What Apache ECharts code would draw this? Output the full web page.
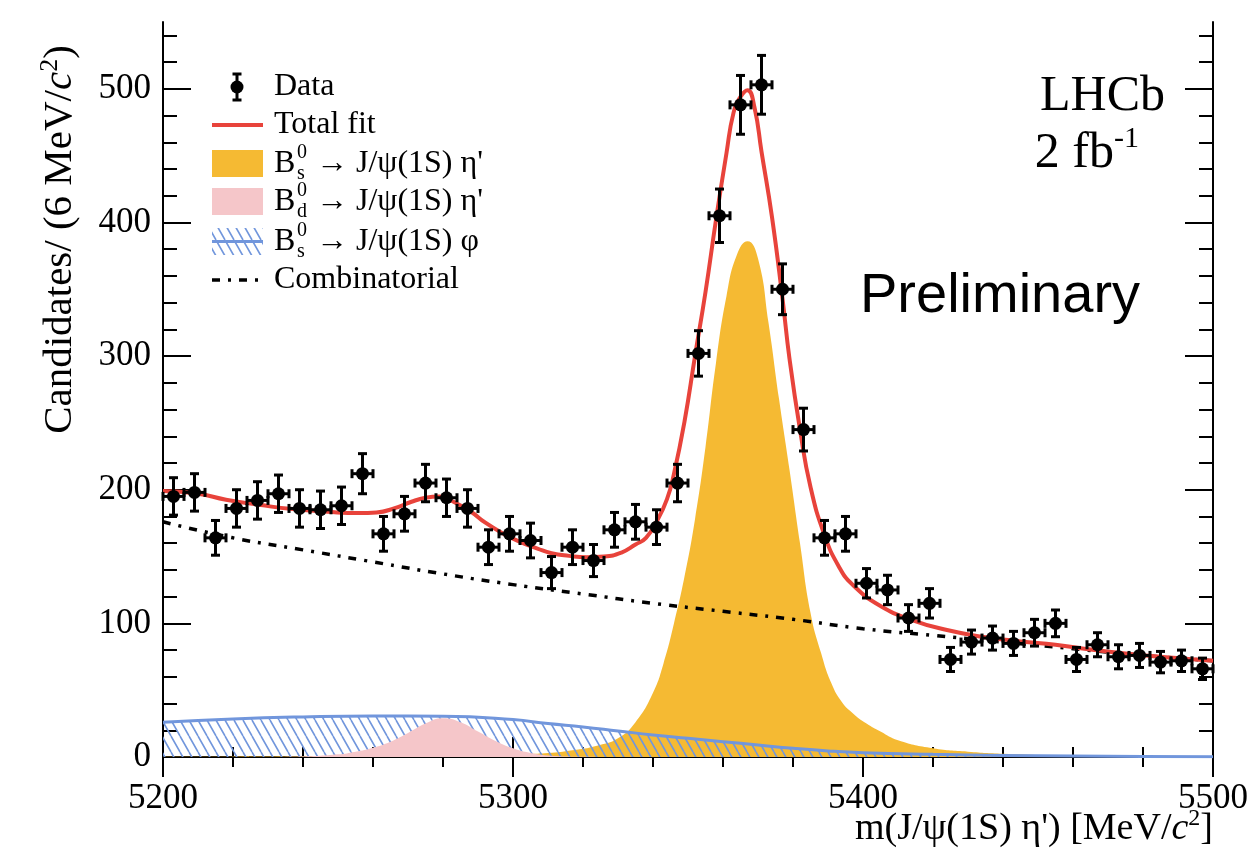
<!DOCTYPE html>
<html>
<head>
<meta charset="utf-8">
<script src="https://cdn.jsdelivr.net/npm/echarts@6/dist/echarts.min.js"></script>
<style>
  html, body { margin: 0; padding: 0; background: #fff; }
  #chart { width: 1255px; height: 862px; }
</style>
</head>
<body>
<div id="chart"></div>
<script>
// m(J/psi eta') spectrum, 6 MeV bins
const binCentres = [5203, 5209, 5215, 5221, 5227, 5233, 5239, 5245, 5251, 5257,
  5263, 5269, 5275, 5281, 5287, 5293, 5299, 5305, 5311, 5317,
  5323, 5329, 5335, 5341, 5347, 5353, 5359, 5365, 5371, 5377,
  5383, 5389, 5395, 5401, 5407, 5413, 5419, 5425, 5431, 5437,
  5443, 5449, 5455, 5461, 5467, 5473, 5479, 5485, 5491, 5497];
const counts = [195, 198, 164, 186, 192, 197, 186, 185, 188, 212,
  167, 182, 205, 194, 186, 157, 167, 162, 138, 157,
  147, 170, 176, 172, 205, 302, 405, 488, 503, 350,
  245, 164, 167, 130, 125, 104, 115, 73, 86, 89,
  85, 93, 100, 73, 84, 75, 76, 71, 72, 66];
const countErr = [14, 14, 13, 14, 14, 14, 14, 14, 14, 15,
  13, 13, 14, 14, 14, 13, 13, 13, 12, 13,
  12, 13, 13, 13, 14, 17, 20, 22, 22, 19,
  16, 13, 13, 11, 11, 10, 11, 9, 9, 9,
  9, 10, 10, 9, 9, 9, 9, 8, 8, 8];

// total fit
const fitMass = [5200, 5210, 5218, 5228, 5237, 5247, 5256, 5261, 5266, 5271, 5275, 5279, 5283, 5288,
  5292, 5297, 5302, 5307, 5311, 5316, 5321, 5326, 5331, 5335, 5338, 5341, 5344, 5346, 5349,
  5352, 5355, 5358, 5361, 5363, 5365, 5367, 5369, 5371, 5374, 5377, 5379, 5382, 5385, 5389,
  5393, 5397, 5405, 5414, 5424, 5434, 5445, 5455, 5465, 5475, 5485, 5493, 5500];
const fitTotal = [199, 197, 192.5, 188.5, 185.5, 183.5, 182.5, 183, 186, 191, 194, 195, 191, 183.5,
  175.5, 167.5, 161, 156, 152.5, 150.5, 149.5, 150, 153, 159, 164, 176, 193, 212, 251,
  300, 348, 402, 452, 482, 494, 499, 486, 453, 404, 343, 298, 245, 202, 166,
  143, 129, 113, 102.5, 95, 90, 86.5, 84, 80.5, 77.5, 75, 73.4, 72];

// B_s0 -> J/psi eta'
const bsMass = [5200, 5250, 5280, 5300, 5310, 5317, 5324, 5330, 5335, 5340, 5343, 5346, 5349, 5352,
  5355, 5358, 5361, 5364, 5367, 5370, 5373, 5376, 5379, 5382, 5385, 5388, 5391, 5394, 5397,
  5401, 5405, 5410, 5420, 5430, 5440, 5460, 5480, 5500];
const bsSignal = [0.2, 0.6, 1.2, 2, 3, 5, 8.5, 14, 26, 48, 70, 100, 135, 178,
  232, 295, 345, 376, 386, 373, 325, 268, 215, 160, 108, 78, 55, 41, 33,
  25, 19, 12.5, 6.5, 4, 2.5, 1, 0.5, 0.3];

// B_d0 -> J/psi eta'
const bdMass = [5230, 5240, 5250, 5255, 5260, 5265, 5270, 5275, 5280, 5285, 5290, 5295, 5300, 5305, 5310, 5320, 5330];
const bdSignal = [0, 0.4, 2, 4, 7, 11.5, 18, 25, 29, 26, 19, 12, 6.5, 3, 1.2, 0.2, 0];

// B_s0 -> J/psi phi
const phiMass = [5200, 5220, 5240, 5260, 5280, 5300, 5310, 5320, 5330, 5340, 5350, 5360, 5370,
  5380, 5390, 5400, 5420, 5440, 5460, 5480, 5500];
const phiBkg = [26, 28.5, 30, 30.7, 30.5, 28, 25, 22.5, 19.5, 16.5, 14, 11.5, 9,
  6.5, 4.5, 3.2, 2, 1.2, 0.7, 0.4, 0.2];

// combinatorial
const combMass = [5200, 5220, 5240, 5260, 5280, 5300, 5320, 5340, 5360, 5380, 5400, 5420, 5440, 5460, 5480, 5500];
const combBkg = [176, 164, 155, 146, 137, 129, 122, 115, 109, 103, 96, 91, 86, 81, 76, 72];

const yMajor = [0, 100, 200, 300, 400, 500];
const yMinor = [20, 40, 60, 80, 120, 140, 160, 180, 220, 240, 260, 280, 320, 340, 360, 380, 420, 440, 460, 480, 520, 540];

const SERIF = '"Liberation Serif", "DejaVu Serif", serif';
const SANS = '"Liberation Sans", Arial, sans-serif';
const RED = '#e8433b', YELLOW = '#f5ba33', PINK = '#f5c6c9', BLUE = '#7196dc';
const COMB_DASH = [8, 8, 3, 8];

const pairs = (xs, ys) => xs.map((x, i) => [x, ys[i]]);

function hatchCanvas() {
  const c = document.createElement('canvas');
  c.width = 9; c.height = 16;
  const g = c.getContext('2d');
  g.strokeStyle = BLUE; g.lineWidth = 1.6;
  g.beginPath();
  for (const x0 of [-9, 0, 9]) { g.moveTo(x0, 0); g.lineTo(x0 + 9, 16); }
  g.stroke();
  return c;
}
const hatch = { image: hatchCanvas(), repeat: 'repeat' };

// data point with x/y error bars
function renderPoint(params, api) {
  const m = api.value(0), n = api.value(1), e = api.value(2);
  const c = api.coord([m, n]);
  const top = api.coord([m, n + e])[1], bot = api.coord([m, n - e])[1];
  const l = api.coord([m - 3, n])[0], r = api.coord([m + 3, n])[0];
  const st = { stroke: '#000', lineWidth: 3 };
  const seg = (x1, y1, x2, y2) => ({ type: 'line', shape: { x1, y1, x2, y2 }, style: st });
  return {
    type: 'group',
    children: [
      seg(c[0], top, c[0], bot),
      seg(c[0] - 4.5, top, c[0] + 4.5, top),
      seg(c[0] - 4.5, bot, c[0] + 4.5, bot),
      seg(l, c[1], r, c[1]),
      seg(l, c[1] - 4.5, l, c[1] + 4.5),
      seg(r, c[1] - 4.5, r, c[1] + 4.5),
      { type: 'circle', shape: { cx: c[0], cy: c[1], r: 6.5 }, style: { fill: '#000' } }
    ]
  };
}

const axisLine = { show: true, lineStyle: { color: '#000', width: 2 } };
const tickStyle = { color: '#000', width: 2 };

const lx = 212, lw = 51, tx = 274;
const txt = (x, y, text, size, extra) => ({
  type: 'text', x, y,
  style: Object.assign({ text, font: `${size}px ${SERIF}`, fill: '#000', verticalAlign: 'middle' }, extra || {})
});
function decayLabel(y, sub, rest) {
  return [
    txt(tx, y, 'B', 32),
    txt(tx + 23, y - 11, '0', 20),
    txt(tx + 23, y + 10, sub, 20),
    txt(tx + 42, y, rest, 32)
  ];
}

const legendGraphics = [].concat(
  // Data
  { type: 'line', shape: { x1: 237, y1: 74, x2: 237, y2: 100 }, style: { stroke: '#000', lineWidth: 3 } },
  { type: 'line', shape: { x1: 232.5, y1: 74, x2: 241.5, y2: 74 }, style: { stroke: '#000', lineWidth: 3 } },
  { type: 'line', shape: { x1: 232.5, y1: 100, x2: 241.5, y2: 100 }, style: { stroke: '#000', lineWidth: 3 } },
  { type: 'circle', shape: { cx: 237, cy: 87, r: 6.5 }, style: { fill: '#000' } },
  txt(tx, 87, 'Data', 32),
  // Total fit
  { type: 'line', shape: { x1: lx, y1: 125, x2: lx + lw, y2: 125 }, style: { stroke: RED, lineWidth: 4 } },
  txt(tx, 125, 'Total fit', 32),
  // Bs -> J/psi eta'
  { type: 'rect', shape: { x: lx, y: 150, width: lw, height: 27 }, style: { fill: YELLOW } },
  decayLabel(163.5, 's', '\u2192 J/\u03c8(1S) \u03b7\''),
  // Bd -> J/psi eta'
  { type: 'rect', shape: { x: lx, y: 188, width: lw, height: 27 }, style: { fill: PINK } },
  decayLabel(202, 'd', '\u2192 J/\u03c8(1S) \u03b7\''),
  // Bs -> J/psi phi
  { type: 'rect', shape: { x: lx, y: 228, width: lw, height: 27 }, style: { fill: hatch } },
  { type: 'line', shape: { x1: lx, y1: 241.5, x2: lx + lw, y2: 241.5 }, style: { stroke: BLUE, lineWidth: 3 } },
  decayLabel(241.5, 's', '\u2192 J/\u03c8(1S) \u03c6'),
  // Combinatorial
  { type: 'line', shape: { x1: lx, y1: 280, x2: lx + lw, y2: 280 }, style: { stroke: '#000', lineWidth: 3.5, lineDash: COMB_DASH } },
  txt(tx, 280, 'Combinatorial', 32),
  // labels
  { type: 'text', x: 1165, y: 97, style: { text: 'LHCb', font: `50px ${SERIF}`, fill: '#000', align: 'right', verticalAlign: 'middle' } },
  { type: 'text', x: 1114, y: 154, style: { text: '2 fb', font: `50px ${SERIF}`, fill: '#000', align: 'right', verticalAlign: 'middle' } },
  { type: 'text', x: 1114, y: 139, style: { text: '-1', font: `30px ${SERIF}`, fill: '#000', align: 'left', verticalAlign: 'middle' } },
  { type: 'text', x: 860, y: 297, style: { text: 'Preliminary', font: `56px ${SANS}`, fill: '#000', align: 'left', verticalAlign: 'middle' } }
);

const chart = echarts.init(document.getElementById('chart'), null, { renderer: 'canvas' });
chart.setOption({
  animation: false,
  backgroundColor: '#fff',
  grid: { left: 163, right: 42, top: 22, bottom: 105, outerBoundsMode: 'none' },
  xAxis: [
    {
      type: 'value', position: 'bottom', min: 5200, max: 5500, interval: 100,
      axisLine,
      axisTick: { inside: true, length: 20, lineStyle: tickStyle },
      minorTick: { show: true, splitNumber: 5, length: 10, lineStyle: tickStyle },
      splitLine: { show: false },
      axisLabel: { color: '#000', fontFamily: SERIF, fontSize: 35, margin: 24, formatter: (v) => String(v) },
      name: '{t|m(J/\u03c8(1S) \u03b7\') [MeV/}{i|c}{s|2}{t|]}',
      nameLocation: 'end', nameGap: 0, nameMoveOverlap: false,
      nameTextStyle: {
        color: '#000', fontFamily: SERIF, fontSize: 38, align: 'right', verticalAlign: 'top',
        padding: [50, 0, 0, 0],
        rich: {
          t: { fontFamily: SERIF, fontSize: 38, lineHeight: 44, color: '#000' },
          i: { fontFamily: SERIF, fontSize: 38, lineHeight: 44, fontStyle: 'italic', color: '#000' },
          s: { fontFamily: SERIF, fontSize: 24, lineHeight: 26, verticalAlign: 'top', color: '#000' }
        }
      }
    },
    {
      type: 'value', position: 'top', min: 5200, max: 5500, interval: 100,
      axisLine,
      axisTick: { inside: true, length: 20, lineStyle: tickStyle },
      minorTick: { show: true, splitNumber: 5, length: 10, lineStyle: tickStyle },
      splitLine: { show: false },
      axisLabel: { show: false }
    }
  ],
  yAxis: [
    {
      type: 'value', position: 'left', min: 0, max: 550,
      axisLine,
      axisTick: { inside: true, length: 28, lineStyle: tickStyle, customValues: yMajor },
      splitLine: { show: false },
      axisLabel: { color: '#000', fontFamily: SERIF, fontSize: 35, margin: 12, customValues: yMajor },
      name: '{t|Candidates/ (6 MeV/}{i|c}{s|2}{t|)}',
      nameLocation: 'middle', nameRotate: 90, nameGap: 80, nameMoveOverlap: false,
      nameTextStyle: {
        color: '#000', fontFamily: SERIF, fontSize: 41,
        padding: [0, 0, 0, 300],
        rich: {
          t: { fontFamily: SERIF, fontSize: 41, lineHeight: 46, color: '#000' },
          i: { fontFamily: SERIF, fontSize: 41, lineHeight: 46, fontStyle: 'italic', color: '#000' },
          s: { fontFamily: SERIF, fontSize: 26, lineHeight: 26, verticalAlign: 'top', color: '#000' }
        }
      }
    },
    {
      type: 'value', position: 'left', min: 0, max: 550,
      axisLine: { show: false },
      axisTick: { inside: true, length: 14, lineStyle: tickStyle, customValues: yMinor },
      splitLine: { show: false },
      axisLabel: { show: false }
    },
    {
      type: 'value', position: 'right', min: 0, max: 550,
      axisLine,
      axisTick: { inside: true, length: 28, lineStyle: tickStyle, customValues: yMajor },
      splitLine: { show: false },
      axisLabel: { show: false }
    },
    {
      type: 'value', position: 'right', min: 0, max: 550,
      axisLine: { show: false },
      axisTick: { inside: true, length: 14, lineStyle: tickStyle, customValues: yMinor },
      splitLine: { show: false },
      axisLabel: { show: false }
    }
  ],
  graphic: legendGraphics,
  series: [
    {
      name: 'Bs -> J/psi eta\'', type: 'line', data: pairs(bsMass, bsSignal),
      smooth: 0.5, symbol: 'none',
      lineStyle: { width: 0, color: YELLOW }, areaStyle: { color: YELLOW, opacity: 1 }, z: 2
    },
    {
      name: 'Bs -> J/psi phi', type: 'line', data: pairs(phiMass, phiBkg),
      smooth: 0.5, symbol: 'none',
      lineStyle: { width: 3, color: BLUE }, areaStyle: { color: hatch, opacity: 1 }, z: 3
    },
    {
      name: 'Bd -> J/psi eta\'', type: 'line', data: pairs(bdMass, bdSignal),
      smooth: 0.5, symbol: 'none',
      lineStyle: { width: 0, color: PINK }, areaStyle: { color: PINK, opacity: 1 }, z: 4
    },
    {
      name: 'Combinatorial', type: 'line', data: pairs(combMass, combBkg),
      smooth: 0.5, symbol: 'none',
      lineStyle: { width: 3.5, color: '#000', type: COMB_DASH }, z: 5
    },
    {
      name: 'Total fit', type: 'line', data: pairs(fitMass, fitTotal),
      smooth: 0.5, symbol: 'none',
      lineStyle: { width: 4, color: RED }, z: 6
    },
    {
      name: 'Data', type: 'custom', renderItem: renderPoint,
      data: binCentres.map((m, i) => [m, counts[i], countErr[i]]),
      encode: { x: 0, y: 1 }, z: 10
    }
  ]
});
</script>
</body>
</html>
